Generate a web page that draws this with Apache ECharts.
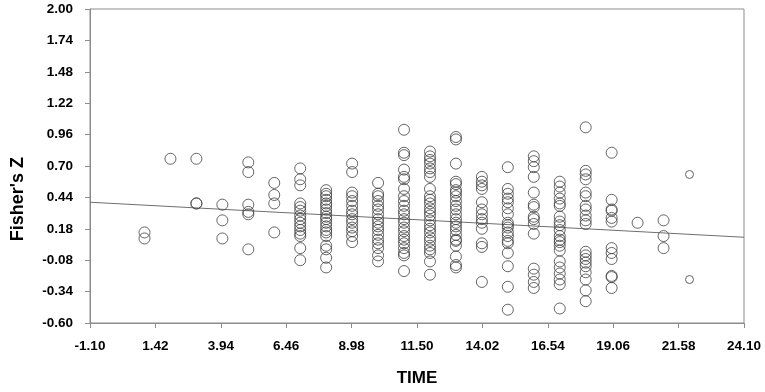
<!DOCTYPE html>
<html>
<head>
<meta charset="utf-8">
<script src="https://cdn.jsdelivr.net/npm/echarts@6/dist/echarts.min.js"></script>
<style>
  html, body { margin: 0; padding: 0; background: #fff; }
  #chart { width: 765px; height: 392px; }
</style>
</head>
<body>
<div id="chart"></div>
<script>
// axis layout as printed on the figure
const xMin = -1.10
const xMax = 24.10
const xStep = 2.52
const yMin = -0.60
const yMax = 2.00
const yStep = 0.26

// one column of Fisher's Z values per TIME
const times = [1, 2, 3, 4, 5, 6, 7, 8, 9, 10, 11, 12, 13, 14, 15, 16, 17, 18, 19, 20, 21, 22]
const fisherZ = [
  [0.15, 0.10],
  [0.76],
  [0.76, 0.39, 0.39],
  [0.38, 0.25, 0.10],
  [0.73, 0.65, 0.38, 0.32, 0.30, 0.01],
  [0.56, 0.46, 0.39, 0.15],
  [0.68, 0.59, 0.54, 0.39, 0.36, 0.33, 0.29, 0.26, 0.23, 0.20, 0.17, 0.14, 0.12, 0.02, -0.08],
  [0.50, 0.47, 0.45, 0.42, 0.39, 0.37, 0.34, 0.31, 0.28, 0.26, 0.23, 0.20, 0.17, 0.15, 0.12, 0.04, 0.01, -0.06, -0.14],
  [0.72, 0.65, 0.48, 0.45, 0.41, 0.37, 0.33, 0.30, 0.26, 0.23, 0.19, 0.16, 0.12, 0.07],
  [0.56, 0.47, 0.45, 0.41, 0.37, 0.34, 0.30, 0.26, 0.23, 0.20, 0.17, 0.13, 0.09, 0.06, 0.02, -0.04, -0.09],
  [1.00, 0.81, 0.79, 0.67, 0.61, 0.59, 0.51, 0.45, 0.41, 0.37, 0.33, 0.30, 0.26, 0.23, 0.19, 0.16, 0.12, 0.09, 0.06, 0.02, -0.02, -0.04, -0.17],
  [0.82, 0.78, 0.75, 0.72, 0.68, 0.65, 0.61, 0.51, 0.45, 0.42, 0.39, 0.35, 0.32, 0.29, 0.25, 0.21, 0.18, 0.15, 0.11, 0.08, 0.04, 0.01, -0.02, -0.09, -0.20],
  [0.94, 0.92, 0.72, 0.57, 0.55, 0.50, 0.48, 0.45, 0.41, 0.37, 0.34, 0.30, 0.26, 0.23, 0.20, 0.17, 0.13, 0.09, 0.08, 0.04, -0.05, -0.12, -0.14],
  [0.61, 0.57, 0.54, 0.51, 0.40, 0.34, 0.30, 0.26, 0.23, 0.18, 0.06, 0.03, -0.26],
  [0.69, 0.51, 0.47, 0.43, 0.40, 0.35, 0.30, 0.23, 0.21, 0.19, 0.15, 0.12, 0.08, 0.06, -0.02, -0.13, -0.30, -0.49],
  [0.78, 0.74, 0.69, 0.61, 0.48, 0.38, 0.36, 0.28, 0.26, 0.22, 0.14, -0.15, -0.20, -0.26, -0.31],
  [0.57, 0.53, 0.48, 0.43, 0.39, 0.37, 0.28, 0.24, 0.21, 0.17, 0.12, 0.09, 0.07, 0.04, 0.00, -0.09, -0.14, -0.19, -0.24, -0.28, -0.48],
  [1.02, 0.66, 0.63, 0.59, 0.48, 0.45, 0.37, 0.34, 0.29, 0.25, 0.22, -0.01, -0.04, -0.07, -0.10, -0.13, -0.18, -0.24, -0.33, -0.42],
  [0.81, 0.42, 0.34, 0.33, 0.27, 0.24, 0.02, -0.02, -0.07, -0.21, -0.22, -0.31],
  [0.23],
  [0.25, 0.12, 0.02],
  [0.63, -0.24],
]

// fitted regression line, read at both ends of the x axis
const fitX = [-1.10, 24.10]
const fitY = [0.40, 0.11]

// axes run from 0 so the ticks land on the printed values; labels shift back
const sx = v => +(v - xMin).toFixed(4)
const sy = v => +(v - yMin).toFixed(4)

const mainPts = []
const lastPts = []
times.forEach((t, i) => {
  fisherZ[i].forEach(z => {
    (i === times.length - 1 ? lastPts : mainPts).push([sx(t), sy(z)])
  })
})
const fitPts = fitX.map((x, i) => [sx(x), sy(fitY[i])])

const labelFont = {
  color: '#000',
  fontFamily: 'Liberation Sans, Arial, sans-serif',
  fontWeight: 'bold',
  fontSize: 13.5,
}
const axisGray = '#8c8c8c'
const circleStyle = {
  color: 'rgba(0,0,0,0)',
  borderColor: '#404040',
  borderWidth: 1,
}

const chart = echarts.init(document.getElementById('chart'))
chart.setOption({
  animation: false,
  grid: {
    left: 90,
    right: 21,
    top: 9,
    bottom: 67,
    show: true,
    borderColor: axisGray,
    borderWidth: 1,
  },
  xAxis: {
    type: 'value',
    min: 0,
    max: sx(xMax),
    interval: xStep,
    name: 'TIME',
    nameLocation: 'middle',
    nameGap: 47,
    nameTextStyle: {
      color: '#000',
      fontFamily: 'Liberation Sans, Arial, sans-serif',
      fontWeight: 'bold',
      fontSize: 17,
    },
    axisLine: { lineStyle: { color: axisGray } },
    axisTick: { length: 5, lineStyle: { color: axisGray } },
    splitLine: { show: false },
    axisLabel: {
      ...labelFont,
      margin: 16,
      formatter: v => (v + xMin).toFixed(2),
    },
  },
  yAxis: {
    type: 'value',
    min: 0,
    max: sy(yMax),
    interval: yStep,
    axisLine: { show: true, lineStyle: { color: axisGray } },
    axisTick: { show: true, length: 5, lineStyle: { color: axisGray } },
    splitLine: { show: false },
    axisLabel: {
      ...labelFont,
      margin: 17,
      formatter: v => (v + yMin).toFixed(2),
    },
  },
  graphic: [
    {
      type: 'text',
      left: 9,
      top: 157,
      rotation: Math.PI / 2,
      style: {
        text: "Fisher's Z",
        fill: '#000',
        font: 'bold 18px "Liberation Sans", Arial, sans-serif',
      },
    },
  ],
  series: [
    {
      type: 'line',
      data: fitPts,
      symbol: 'none',
      silent: true,
      lineStyle: { color: '#6e6e6e', width: 1 },
      z: 1,
    },
    {
      type: 'scatter',
      data: mainPts,
      symbol: 'circle',
      symbolSize: 11,
      itemStyle: circleStyle,
      z: 2,
    },
    {
      type: 'scatter',
      data: lastPts,
      symbol: 'circle',
      symbolSize: 8,
      itemStyle: circleStyle,
      z: 2,
    },
  ],
})
</script>
</body>
</html>
